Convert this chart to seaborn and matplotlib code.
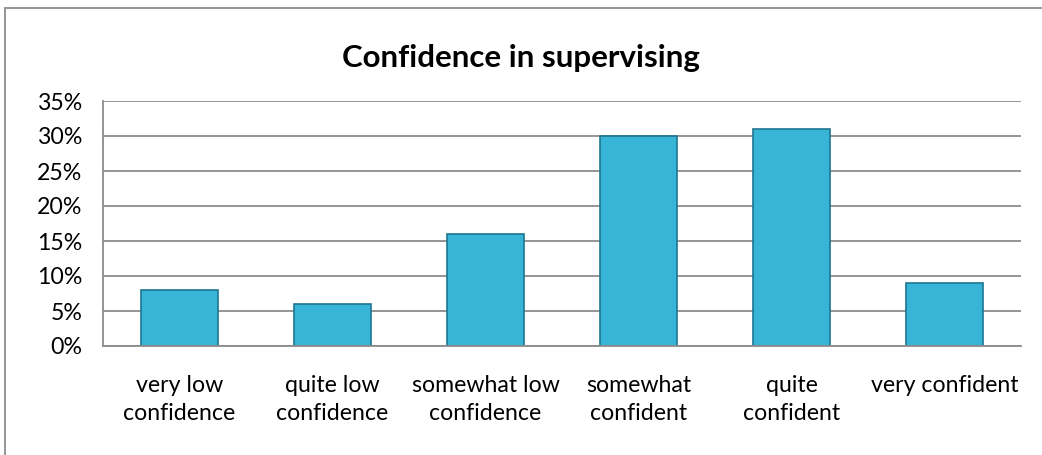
import matplotlib
matplotlib.use("Agg")
import matplotlib.pyplot as plt
import seaborn as sns
import pandas as pd
from matplotlib.patches import Rectangle
from matplotlib.ticker import FixedLocator, PercentFormatter

categories = ["very low\nconfidence", "quite low\nconfidence", "somewhat low\nconfidence",
              "somewhat\nconfident", "quite\nconfident", "very confident"]
values = [8, 6, 16, 30, 31, 9]
title = "Confidence in supervising"

sns.set_theme(style="white")
plt.rcParams['font.family'] = ['Lato', 'DejaVu Sans']
plt.rcParams['text.color'] = 'black'
plt.rcParams['xtick.color'] = 'black'
plt.rcParams['ytick.color'] = 'black'

df = pd.DataFrame({"cat": categories, "val": values})

fig = plt.figure(figsize=(10.42, 4.55), dpi=100)
ax = fig.add_axes([103/1042, 1-346/455, (1021-103)/1042, (346-101)/455])

sns.barplot(data=df, x="cat", y="val", ax=ax, color="#38B4D6", width=0.5,
            edgecolor="#1F7690", linewidth=1.2, saturation=1)

ax.set_ylim(0, 35)
ax.set_xlim(-0.5, len(categories)-0.5)
ax.yaxis.set_major_locator(FixedLocator(range(0, 36, 5)))
ax.yaxis.set_major_formatter(PercentFormatter(decimals=0))
ax.grid(axis="y", color="#8C8C8C", linewidth=1.3)
ax.set_axisbelow(True)
for s in ["top", "right"]:
    ax.spines[s].set_visible(False)
ax.spines["left"].set_color("#8C8C8C")
ax.spines["bottom"].set_color("#8C8C8C")
ax.spines["left"].set_linewidth(1.3)
ax.spines["bottom"].set_linewidth(1.3)

ax.set_xticks([i for i in range(len(categories))])
ax.set_xticklabels(categories, fontsize=16.7, linespacing=1.4)
ax.tick_params(axis="x", length=0, pad=21, colors="black")
ax.set_xticks([i - 0.5 for i in range(len(categories)+1)], minor=True)
ax.tick_params(axis="x", which="minor", length=8, color="#8C8C8C", width=1.3, direction="out")
ax.tick_params(axis="y", length=7, color="#8C8C8C", width=1.3, labelsize=16.7, direction="out", pad=8,
               labelcolor="black")
ax.set_xlabel("")
ax.set_ylabel("")

fig.text(0.5, 1-58/455, title, ha="center", va="center", fontsize=22.5, fontweight="bold", color="black")

fig.patches.append(Rectangle((5/1042, -0.02), 1.1, 1.02 - 8/455, transform=fig.transFigure,
                             fill=False, edgecolor="#8C8C8C", linewidth=1.3))

fig.savefig("out.png", dpi=100)
